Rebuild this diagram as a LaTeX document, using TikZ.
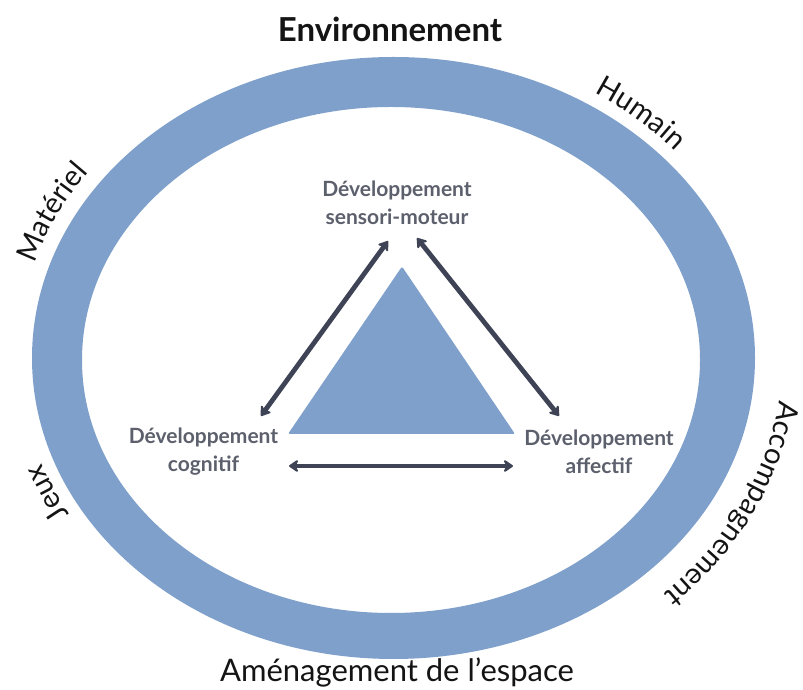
\documentclass[tikz,border=0pt]{standalone}
\usepackage{fontspec}
\setmainfont{Lato}
\usetikzlibrary{arrows.meta,decorations.text}
\definecolor{ringblue}{RGB}{127,160,203}
\definecolor{arrowdark}{RGB}{62,68,86}
\definecolor{labelgrey}{RGB}{92,96,108}
\definecolor{titleblack}{RGB}{20,20,20}
\newcommand{\outerfnt}{\fontsize{29}{32}\selectfont}
\begin{document}
\begin{tikzpicture}[x=1pt,y=1pt,
  devlabel/.style={text=labelgrey, font=\fontsize{21}{28}\selectfont\bfseries, align=center, inner sep=0pt},
  linkarrow/.style={draw=arrowdark, line width=4.8pt,
    {Stealth[length=11pt,width=15pt,round]}-{Stealth[length=11pt,width=15pt,round]}},
  ringlabel/.style={decorate, decoration={text along path, text align=center,
    text color=titleblack}},
]
\useasboundingbox (0,0) rectangle (803,690);
\coordinate (C) at (393.5,332);
\coordinate (Ci) at (391,330);
% ring
\fill[ringblue, even odd rule] (C) ellipse [x radius=361.5, y radius=301]
                                (Ci) ellipse [x radius=309, y radius=253];
% triangle
\coordinate (tA) at (402,423.5);
\coordinate (tB) at (288,256);
\coordinate (tC) at (515,256);
\fill[ringblue, rounded corners=2pt] (tA) -- (tB) -- (tC) -- cycle;
% title
\node[font=\fontsize{33}{36}\selectfont\bfseries, text=titleblack] (env) at (390,661) {Environnement};
% inner labels
\node[devlabel] (sm) at (397,487) {Développement\\sensori-moteur};
\node[devlabel] (cog) at (203.5,238) {Développement\\cognitif};
\node[devlabel] (aff) at (599,238) {Développement\\affectif};
% arrow ends
\coordinate (smL) at (388,449);
\coordinate (smR) at (417,452);
\coordinate (cogT) at (261,274);
\coordinate (affT) at (559,274);
\coordinate (cogR) at (289,224);
\coordinate (affL) at (513,224);
\draw[linkarrow] (smL) -- (cogT);
\draw[linkarrow] (smR) -- (affT);
\draw[linkarrow] (cogR) -- (affL);
% outer labels (clockwise arcs, tops outward)
\path[ringlabel, decoration={text={|\outerfnt|Matériel}}]
  ([shift={(180:376.5 and 316)}]C) arc[start angle=180, end angle=128, x radius=376.5, y radius=316];
\path[ringlabel, decoration={text={|\outerfnt|Humain}}]
  ([shift={(75:374.5 and 314)}]C) arc[start angle=75, end angle=22, x radius=374.5, y radius=314];
\path[ringlabel, decoration={text={|\outerfnt|Jeux}}]
  ([shift={(230:373.5 and 313)}]C) arc[start angle=230, end angle=178, x radius=373.5, y radius=313];
\path[ringlabel, decoration={text={|\outerfnt|Accompagnement}}]
  ([shift={(22:389 and 328)}]C) arc[start angle=22, end angle=-72, x radius=389, y radius=328];
\node[font=\fontsize{31}{34}\selectfont, text=titleblack, anchor=base] (amen) at (397,8) {Aménagement de l’espace};
\end{tikzpicture}
\end{document}
